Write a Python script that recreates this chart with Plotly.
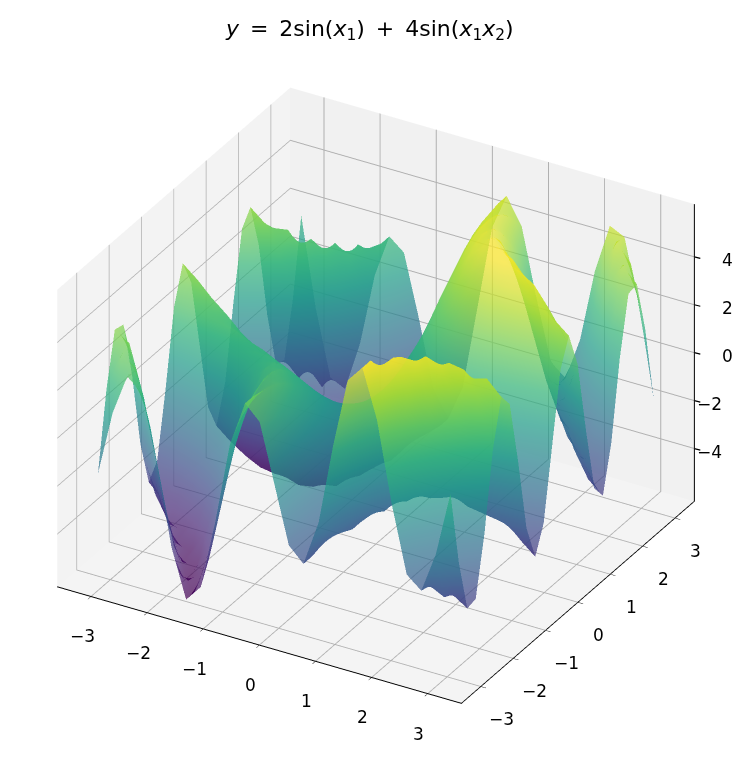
import plotly.graph_objects as go

x1_values = [-3.14, -2.88, -2.62, -2.36, -2.09, -1.83, -1.57, -1.31, -1.05, -0.79, -0.52, -0.26, 0,
             0.26, 0.52, 0.79, 1.05, 1.31, 1.57, 1.83, 2.09, 2.36, 2.62, 2.88, 3.14]
x2_values = list(x1_values)

# Heights read for each x2 row, across x1 from -3.14 to 3.14
row_m12 = [-1.7,1.0,2.7,2.2,-0.6,-3.9,-5.9,-5.2,-2.3,1.1,3.0,2.4,0,-2.4,-3.0,-1.1,2.3,5.2,5.9,3.9,0.6,-2.2,-2.7,-1.0,1.7]
row_m11 = [1.5,3.1,2.8,0.5,-2.7,-5.3,-5.9,-4.3,-1.2,1.7,3.0,2.2,0,-2.2,-3.0,-1.7,1.2,4.3,5.9,5.3,2.7,-0.5,-2.8,-3.1,-1.5]
row_m10 = [3.7,3.3,1.2,-1.9,-4.6,-5.9,-5.3,-3.1,-0.2,2.1,2.9,2.0,0,-2.0,-2.9,-2.1,0.2,3.1,5.3,5.9,4.6,1.9,-1.2,-3.3,-3.7]
row_m9 = [3.6,1.4,-1.5,-4.1,-5.6,-5.6,-4.1,-1.7,0.8,2.4,2.8,1.8,0,-1.8,-2.8,-2.4,-0.8,1.7,4.1,5.6,5.6,4.1,1.5,-1.4,-3.6]
row_m8 = [1.2,-1.5,-3.9,-5.3,-5.5,-4.5,-2.6,-0.4,1.5,2.6,2.6,1.6,0,-1.6,-2.6,-2.6,-1.5,0.4,2.6,4.5,5.5,5.3,3.9,1.5,-1.2]
row_m7 = [-2.0,-3.9,-5.0,-5.1,-4.3,-2.8,-1.0,0.8,2.0,2.6,2.3,1.3,0,-1.3,-2.3,-2.6,-2.0,-0.8,1.0,2.8,4.3,5.1,5.0,3.9,2.0]
row_m6 = [-3.9,-4.5,-4.3,-3.5,-2.3,-0.9,0.5,1.6,2.3,2.4,1.9,1.1,0,-1.1,-1.9,-2.4,-2.3,-1.6,-0.5,0.9,2.3,3.5,4.3,4.5,3.9]
row_m5 = [-3.3,-2.9,-2.1,-1.2,-0.2,0.8,1.5,2.0,2.2,2.0,1.5,0.8,0,-0.8,-1.5,-2.0,-2.2,-2.0,-1.5,-0.8,0.2,1.2,2.1,2.9,3.3]
row_m4 = [-0.6,0.0,0.6,1.1,1.5,1.8,2.0,2.0,1.8,1.5,1.1,0.6,0,-0.6,-1.1,-1.5,-1.8,-2.0,-2.0,-1.8,-1.5,-1.1,-0.6,0.0,0.6]
row_m3 = [2.5,2.6,2.5,2.4,2.3,2.0,1.8,1.5,1.2,0.9,0.6,0.3,0,-0.3,-0.6,-0.9,-1.2,-1.5,-1.8,-2.0,-2.3,-2.4,-2.5,-2.6,-2.5]
row_m2 = [4.0,3.5,2.9,2.4,1.8,1.4,0.9,0.6,0.4,0.2,0.1,0.0,0,0.0,-0.1,-0.2,-0.4,-0.6,-0.9,-1.4,-1.8,-2.4,-2.9,-3.5,-4.0]
row_m1 = [2.9,2.2,1.5,0.9,0.3,-0.1,-0.4,-0.6,-0.6,-0.6,-0.4,-0.2,0,0.2,0.4,0.6,0.6,0.6,0.4,0.1,-0.3,-0.9,-1.5,-2.2,-2.9]
row_0 = [0.0,-0.5,-1.0,-1.4,-1.7,-1.9,-2.0,-1.9,-1.7,-1.4,-1.0,-0.5,0,0.5,1.0,1.4,1.7,1.9,2.0,1.9,1.7,1.4,1.0,0.5,0.0]
row_p1 = [-2.9,-3.3,-3.5,-3.7,-3.8,-3.8,-3.6,-3.3,-2.8,-2.2,-1.6,-0.8,0,0.8,1.6,2.2,2.8,3.3,3.6,3.8,3.8,3.7,3.5,3.3,2.9]
row_p2 = [-4.0,-4.5,-4.9,-5.2,-5.3,-5.2,-4.9,-4.5,-3.8,-3.0,-2.1,-1.1,0,1.1,2.1,3.0,3.8,4.5,4.9,5.2,5.3,5.2,4.9,4.5,4.0]
row_p3 = [-2.5,-3.6,-4.5,-5.3,-5.7,-5.9,-5.8,-5.4,-4.7,-3.7,-2.6,-1.3,0,1.3,2.6,3.7,4.7,5.4,5.8,5.9,5.7,5.3,4.5,3.6,2.5]
row_p4 = [0.6,-1.0,-2.6,-3.9,-5.0,-5.7,-6.0,-5.9,-5.3,-4.3,-3.1,-1.6,0,1.6,3.1,4.3,5.3,5.9,6.0,5.7,5.0,3.9,2.6,1.0,-0.6]
row_p5 = [3.3,1.8,0.1,-1.6,-3.3,-4.6,-5.5,-5.9,-5.6,-4.8,-3.5,-1.9,0,1.9,3.5,4.8,5.6,5.9,5.5,4.6,3.3,1.6,-0.1,-1.8,-3.3]
row_p6 = [3.9,3.4,2.3,0.7,-1.1,-3.0,-4.5,-5.5,-5.7,-5.2,-3.9,-2.1,0,2.1,3.9,5.2,5.7,5.5,4.5,3.0,1.1,-0.7,-2.3,-3.4,-3.9]
row_p7 = [2.0,2.9,3.0,2.3,0.8,-1.1,-3.0,-4.6,-5.5,-5.4,-4.3,-2.4,0,2.4,4.3,5.4,5.5,4.6,3.0,1.1,-0.8,-2.3,-3.0,-2.9,-2.0]
row_p8 = [-1.2,0.5,1.9,2.5,2.1,0.6,-1.4,-3.5,-5.0,-5.4,-4.6,-2.6,0,2.6,4.6,5.4,5.0,3.5,1.4,-0.6,-2.1,-2.5,-1.9,-0.5,1.2]
row_p9 = [-3.6,-2.5,-0.5,1.3,2.2,1.8,0.1,-2.2,-4.2,-5.3,-4.8,-2.8,0,2.8,4.8,5.3,4.2,2.2,-0.1,-1.8,-2.2,-1.3,0.5,2.5,3.6]
row_p10 = [-3.7,-4.3,-3.2,-1.0,1.1,2.0,1.3,-0.8,-3.3,-5.0,-4.9,-3.0,0,3.0,4.9,5.0,3.3,0.8,-1.3,-2.0,-1.1,1.0,3.2,4.3,3.7]
row_p11 = [-1.5,-4.1,-4.8,-3.3,-0.7,1.5,1.9,0.4,-2.2,-4.5,-5.0,-3.3,0,3.3,5.0,4.5,2.2,-0.4,-1.9,-1.5,0.7,3.3,4.8,4.1,1.5]
row_p12 = [1.7,-2.0,-4.7,-5.0,-2.9,0.1,1.9,1.4,-1.1,-3.9,-5.0,-3.5,0,3.5,5.0,3.9,1.1,-1.4,-1.9,-0.1,2.9,5.0,4.7,2.0,-1.7]

heights = [row_m12, row_m11, row_m10, row_m9, row_m8, row_m7, row_m6, row_m5, row_m4, row_m3, row_m2, row_m1,
           row_0, row_p1, row_p2, row_p3, row_p4, row_p5, row_p6, row_p7, row_p8, row_p9, row_p10, row_p11, row_p12]

x_ticks = [-3, -2, -1, 0, 1, 2, 3]
y_ticks = [-3, -2, -1, 0, 1, 2, 3]
z_ticks = [-4, -2, 0, 2, 4]
xy_limit = 3.6
z_limit = 6.2
edge = 0.001  # keeps labels just inside the axis range, where plotly still draws them

fig = go.Figure()
fig.add_trace(go.Surface(
    x=x1_values, y=x2_values, z=heights,
    colorscale="Viridis", cmin=-5.9, cmax=5.9, opacity=0.7, showscale=False,
    lighting=dict(ambient=1, diffuse=0, specular=0, roughness=1, fresnel=0),
    hoverinfo="skip",
))
# z axis line on the right-hand vertical edge of the box
fig.add_trace(go.Scatter3d(
    x=[xy_limit, xy_limit], y=[xy_limit, xy_limit], z=[-z_limit, z_limit],
    mode="lines", line=dict(color="black", width=2), hoverinfo="skip", showlegend=False,
))


def axis(ticks, limit, bg, native_line=True):
    return dict(
        range=[-limit, limit], tickvals=ticks, title=dict(text=""), showbackground=True, backgroundcolor=bg,
        gridcolor="#b0b0b0", gridwidth=2, zeroline=False, showline=native_line, linecolor="black", linewidth=2,
        ticks="outside" if native_line else "", ticklen=6, tickcolor="black", showticklabels=False,
        showspikes=False, mirror=False,
    )


def tick_text(v):
    return f"\u2212{abs(v)}" if v < 0 else str(v)


label_font = dict(family="DejaVu Sans", size=17, color="black")
annotations = []
for v in x_ticks:
    annotations.append(dict(x=v, y=-xy_limit + edge, z=-z_limit + edge, text=tick_text(v), showarrow=False,
                            xshift=-9, yshift=-40, font=label_font))
for v in y_ticks:
    annotations.append(dict(x=xy_limit - edge, y=v, z=-z_limit + edge, text=tick_text(v), showarrow=False,
                            xshift=21, yshift=-33, font=label_font))
for v in z_ticks:
    annotations.append(dict(x=xy_limit - edge, y=xy_limit - edge, z=v, text=tick_text(v), showarrow=False,
                            xanchor="center", xshift=15 if v < 0 else 33, yshift=-3, font=label_font))
    annotations.append(dict(x=xy_limit - edge, y=xy_limit - edge, z=v, text=".", showarrow=True, arrowhead=0,
                            arrowwidth=1.2, arrowcolor="black", ax=8, ay=2, standoff=0,
                            font=dict(size=1, color="rgba(0,0,0,0)")))

fig.update_layout(
    width=749, height=771, paper_bgcolor="white", showlegend=False,
    margin=dict(l=0, r=0, t=0, b=0),
    font=dict(family="DejaVu Sans", color="black"),
    title=dict(
        text="<i>y</i>\u2002=\u20022sin(<i>x</i><sub>1</sub>)\u2002+\u20024sin(<i>x</i><sub>1</sub><i>x</i><sub>2</sub>)",
        x=0.483, xanchor="center", y=0.974, yanchor="middle", font=dict(size=22),
    ),
    scene=dict(
        domain=dict(x=[0, 1], y=[0, 1]),
        xaxis=axis(x_ticks, xy_limit, "#f3f3f3"),
        yaxis=axis(y_ticks, xy_limit, "#f1f1f1"),
        zaxis=axis(z_ticks, z_limit, "#f4f4f4", native_line=False),
        aspectmode="manual", aspectratio=dict(x=1.21, y=1.21, z=0.89),
        camera=dict(
            eye=dict(x=0.815, y=-1.379, z=0.931),
            center=dict(x=0.015, y=0.0085, z=0.006),
            up=dict(x=0, y=0, z=1),
            projection=dict(type="orthographic"),
        ),
        annotations=annotations,
    ),
)
fig.write_html("out.html", config=dict(displayModeBar=False))
